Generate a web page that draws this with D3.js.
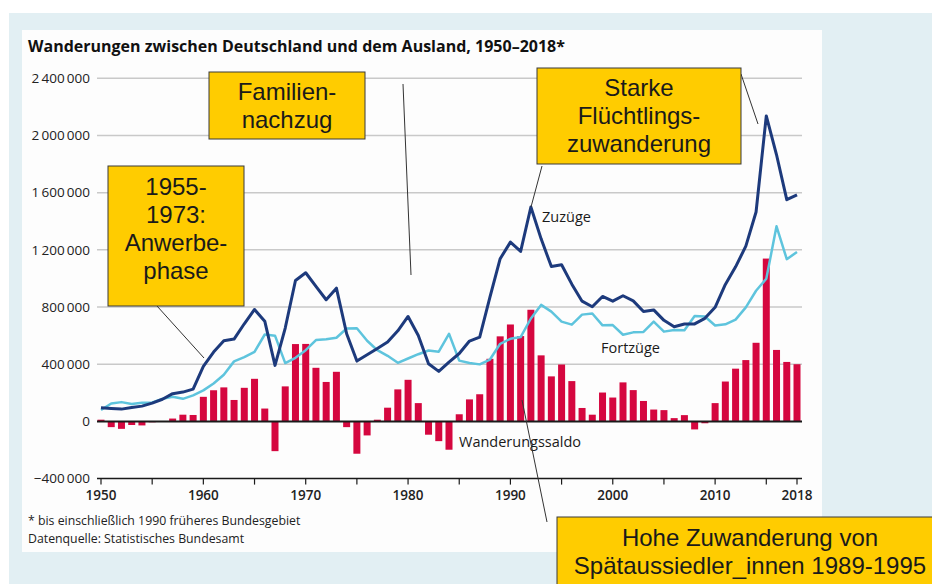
<html>
	<head>
		<meta charset="utf-8">
		<script src="https://cdn.jsdelivr.net/npm/d3@7"></script>
		<style>
			body { margin: 0; background: #ffffff; }
			svg { display: block; }
		</style>
	</head>
	<body>
		<div id="chart"><svg></svg></div>
		<script>

			// data (persons per year)
			var years = d3.range(1950, 2019);
			var zuzuege = [
				95000, 90000, 86000, 98000, 107000, 128000, 155000, 194000, 205000, 226000,
				385000, 485000, 564000, 576000, 683000, 783000, 701000, 392000, 653000, 986000,
				1040000, 944000, 851000, 932000, 613000, 422000, 466000, 510000, 555000, 634000,
				734000, 601000, 403000, 350000, 415000, 475000, 562000, 590000, 869000, 1138000,
				1254000, 1189000, 1500000, 1277000, 1083000, 1096000, 960000, 841000, 802000, 874000,
				841000, 879000, 843000, 769000, 780000, 707000, 662000, 681000, 682000, 721000,
				798000, 958000, 1081000, 1226000, 1465000, 2137000, 1865000, 1551000, 1585000
			];
			var fortzuege = [
				80000, 125000, 135000, 122000, 130000, 133000, 158000, 172000, 158000, 182000,
				217000, 265000, 326000, 420000, 450000, 487000, 608000, 600000, 408000, 445000,
				498000, 569000, 575000, 585000, 650000, 652000, 564000, 498000, 459000, 410000,
				440000, 470000, 496000, 488000, 613000, 425000, 408000, 399000, 433000, 543000,
				578000, 590000, 720000, 815000, 768000, 698000, 677000, 747000, 755000, 672000,
				674000, 606000, 623000, 626000, 698000, 628000, 639000, 637000, 738000, 734000,
				671000, 679000, 712000, 798000, 914000, 998000, 1365000, 1135000, 1185000
			];
			var saldo = [
				12000, -40000, -52000, -25000, -28000, -6000, -3000, 20000, 47000, 45000,
				172000, 218000, 238000, 150000, 235000, 298000, 90000, -208000, 245000, 541000,
				542000, 375000, 276000, 347000, -40000, -226000, -98000, 12000, 96000, 224000,
				291000, 128000, -93000, -138000, -198000, 50000, 154000, 190000, 438000, 595000,
				678000, 597000, 781000, 462000, 315000, 398000, 282000, 94000, 47000, 202000,
				167000, 273000, 219000, 143000, 83000, 79000, 23000, 44000, -56000, -13000,
				128000, 279000, 369000, 429000, 550000, 1139000, 500000, 416000, 400000
			];
			var yTicks = [-400000, 0, 400000, 800000, 1200000, 1600000, 2000000, 2400000];
			var xTickMarks = [1950, 1955, 1960, 1965, 1970, 1975, 1980, 1985, 1990, 1995, 2000, 2005, 2010, 2015, 2018];
			var xTickLabels = [1950, 1960, 1970, 1980, 1990, 2000, 2010, 2018];

			draw();

			function draw(){
				var width = 932, height = 584;
				var svg = d3.select("#chart").select("svg")
					.attr("width", width)
					.attr("height", height);
				svg.selectAll("*").remove();

				var font = "'Open Sans', 'DejaVu Sans', sans-serif";
				var boxFont = "'Liberation Sans', Arial, sans-serif";

				// page backgrounds
				svg.append("rect").attr("x", 0).attr("y", 0).attr("width", width).attr("height", height).attr("fill", "#ffffff");
				svg.append("rect").attr("x", 9).attr("y", 13).attr("width", width - 9).attr("height", height - 13).attr("fill", "#e2eff3");
				svg.append("rect").attr("x", 22).attr("y", 30).attr("width", 800).attr("height", 522).attr("fill", "#fdfdfd");

				var x = d3.scaleLinear().domain([1950, 2018]).range([101, 797]);
				var y = d3.scaleLinear().domain([-400000, 2400000]).range([478.6, 78.3]);
				var left = 97, right = 802;

				// title
				svg.append("text")
					.attr("x", 28)
					.attr("y", 52)
					.style("font-family", font)
					.style("font-weight", "bold")
					.style("font-size", "15.5px")
					.attr("fill", "#111")
					.attr("textLength", 537)
					.attr("lengthAdjust", "spacingAndGlyphs")
					.text("Wanderungen zwischen Deutschland und dem Ausland, 1950\u20132018*");

				// grid lines
				svg.append("g").selectAll("line")
					.data(yTicks.filter(function(d){ return d > 0; }))
					.enter().append("line")
					.attr("x1", left).attr("x2", right)
					.attr("y1", function(d){ return y(d); })
					.attr("y2", function(d){ return y(d); })
					.style("stroke", "#c9c9c9")
					.style("stroke-width", 1.5);

				// y axis labels
				var fmt = function(d){
					var s = d3.format(",")(Math.abs(d)).replace(/,/g, "\u2009");
					return (d < 0 ? "\u2212" : "") + s;
				};
				var yAxis = svg.append("g")
					.attr("transform", "translate(" + left + ",0)")
					.call(d3.axisLeft(y).tickValues(yTicks).tickFormat(fmt).tickSize(0).tickPadding(7));
				yAxis.select(".domain").remove();
				yAxis.selectAll("text")
					.style("font-family", font)
					.style("font-size", "13.5px")
					.attr("fill", "#222");

				// bars (Wanderungssaldo)
				var bw = 7;
				svg.append("g").selectAll("rect")
					.data(years)
					.enter().append("rect")
					.attr("x", function(d){ return x(d) - bw / 2; })
					.attr("y", function(d, i){ return y(Math.max(0, saldo[i])); })
					.attr("width", bw)
					.attr("height", function(d, i){ return Math.abs(y(saldo[i]) - y(0)); })
					.attr("fill", "#d5073f");

				// zero line
				svg.append("line")
					.attr("x1", left).attr("x2", right)
					.attr("y1", y(0)).attr("y2", y(0))
					.style("stroke", "#1a1a1a")
					.style("stroke-width", 2);

				// lines
				var line = function(vals){
					return d3.line()
						.x(function(d){ return x(d); })
						.y(function(d, i){ return y(vals[i]); })(years);
				};
				svg.append("path")
					.attr("d", line(fortzuege))
					.attr("fill", "none")
					.style("stroke", "#5ec4dd")
					.style("stroke-width", 2.5)
					.style("stroke-linejoin", "round");
				svg.append("path")
					.attr("d", line(zuzuege))
					.attr("fill", "none")
					.style("stroke", "#1d3a7c")
					.style("stroke-width", 3)
					.style("stroke-linejoin", "round");

				// x axis
				var xAxis = svg.append("g")
					.attr("transform", "translate(0," + y(-400000) + ")");
				xAxis.append("line")
					.attr("x1", left).attr("x2", right)
					.attr("y1", 0).attr("y2", 0)
					.style("stroke", "#1a1a1a")
					.style("stroke-width", 1.5);
				xAxis.selectAll(".tick")
					.data(xTickMarks)
					.enter().append("line")
					.attr("x1", function(d){ return x(d); })
					.attr("x2", function(d){ return x(d); })
					.attr("y1", 0).attr("y2", 6)
					.style("stroke", "#1a1a1a")
					.style("stroke-width", 1.2);
				xAxis.selectAll("text")
					.data(xTickLabels)
					.enter().append("text")
					.attr("x", function(d){ return x(d); })
					.attr("y", 21)
					.style("text-anchor", "middle")
					.style("font-family", font)
					.style("font-weight", 600)
					.style("font-size", "13.5px")
					.attr("fill", "#222")
					.text(function(d){ return d; });

				// series labels
				var labels = [
					{ t: "Zuz\u00fcge", x: 542, y: 222 },
					{ t: "Fortz\u00fcge", x: 601, y: 353 },
					{ t: "Wanderungssaldo", x: 459, y: 447 }
				];
				svg.selectAll(".slabel")
					.data(labels)
					.enter().append("text")
					.attr("x", function(d){ return d.x; })
					.attr("y", function(d){ return d.y; })
					.style("font-family", font)
					.style("font-size", "14.5px")
					.style("font-weight", 500)
					.attr("fill", "#1a1a1a")
					.text(function(d){ return d.t; });

				// footnotes
				svg.append("text")
					.attr("x", 28).attr("y", 525)
					.style("font-family", font)
					.style("font-size", "12.3px")
					.attr("fill", "#222")
					.text("* bis einschlie\u00dflich 1990 fr\u00fcheres Bundesgebiet");
				svg.append("text")
					.attr("x", 28).attr("y", 543)
					.style("font-family", font)
					.style("font-size", "12.3px")
					.attr("fill", "#222")
					.text("Datenquelle: Statistisches Bundesamt");

				// annotation connectors
				var connectors = [
					[157, 306, 204, 358],
					[403, 84, 411, 275],
					[741, 74, 758, 124],
					[542, 166, 531, 207],
					[522, 400, 547, 522]
				];
				svg.selectAll(".conn")
					.data(connectors)
					.enter().append("line")
					.attr("x1", function(d){ return d[0]; })
					.attr("y1", function(d){ return d[1]; })
					.attr("x2", function(d){ return d[2]; })
					.attr("y2", function(d){ return d[3]; })
					.style("stroke", "#333")
					.style("stroke-width", 1);

				// annotation boxes
				var boxes = [
					{ x: 108, y: 166, w: 136, h: 140, lines: ["1955-", "1973:", "Anwerbe-", "phase"], y0: 195 },
					{ x: 209, y: 72, w: 156, h: 67, lines: ["Familien-", "nachzug"], y0: 100 },
					{ x: 537, y: 68, w: 204, h: 96, lines: ["Starke", "Fl\u00fcchtlings-", "zuwanderung"], y0: 96 },
					{ x: 557, y: 517, w: 386, h: 80, lines: ["Hohe Zuwanderung von", "Sp\u00e4taussiedler_innen 1989-1995"], y0: 546 }
				];
				boxes.forEach(function(b){
					svg.append("rect")
						.attr("x", b.x).attr("y", b.y)
						.attr("width", b.w).attr("height", b.h)
						.attr("fill", "#ffcc00")
						.style("stroke", "#3a3a3a")
						.style("stroke-width", 1);
					b.lines.forEach(function(t, i){
						svg.append("text")
							.attr("x", b.x + b.w / 2)
							.attr("y", b.y0 + i * 28)
							.style("text-anchor", "middle")
							.style("font-family", boxFont)
							.style("font-size", "24px")
							.attr("fill", "#1a1a1a")
							.text(t);
					});
				});
			}

		</script>
	</body>
</html>
